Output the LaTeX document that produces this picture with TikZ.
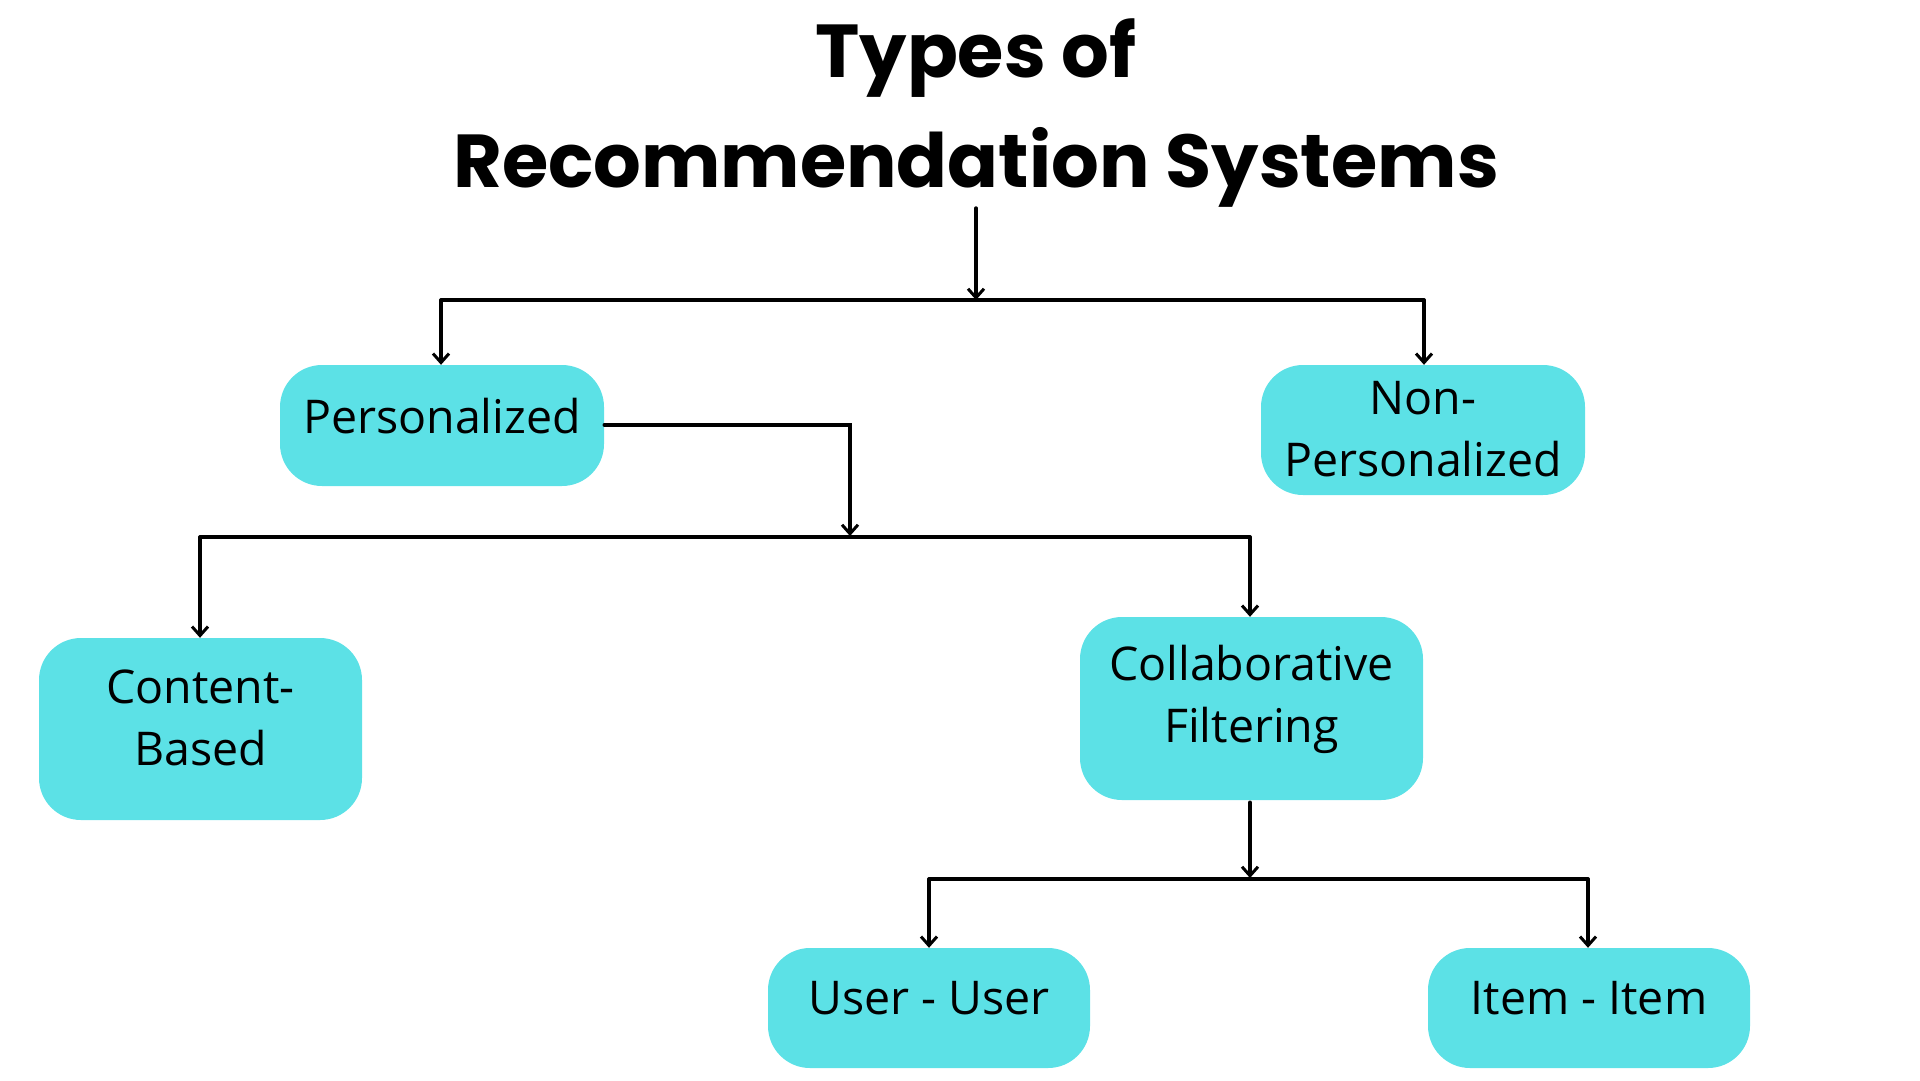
\documentclass[tikz,border=0pt]{standalone}
\usepackage{fontspec}
\setmainfont{Open Sans}
\newfontfamily\titlefont{Poppins}[BoldFont={* Bold}]
\usetikzlibrary{arrows.meta}
\definecolor{boxcyan}{HTML}{5CE1E6}
\tikzset{
  x=1pt, y=-1pt,
  box/.style={rectangle, rounded corners=42pt, fill=boxcyan, draw=none, inner sep=0pt},
  lbl/.style={font=\fontsize{46.5}{62}\selectfont, align=center, inner sep=0pt, text=black},
  wire/.style={line width=3.4pt, line cap=round},
  arr/.style={wire, -{Straight Barb[length=9pt,width=16pt,line width=3pt]}},
}
\begin{document}
\begin{tikzpicture}
\useasboundingbox (0,0) rectangle (1920,1080);
% title
\node[font=\titlefont\bfseries\fontsize{75}{110}\selectfont, align=center, inner sep=0pt] (title) at (976,113) {Types of\\Recommendation Systems};
% boxes
\node[box, minimum width=324pt, minimum height=121pt] (pers) at (442,425.5) {};
\node[box, minimum width=324pt, minimum height=130pt] (nonp) at (1423,430) {};
\node[box, minimum width=323pt, minimum height=182pt] (cont) at (200.5,729) {};
\node[box, minimum width=343pt, minimum height=183pt] (coll) at (1251.5,708.5) {};
\node[box, minimum width=322pt, minimum height=120pt] (user) at (929,1008) {};
\node[box, minimum width=322pt, minimum height=120pt] (item) at (1589,1008) {};
% labels
\node[lbl] (perst) at (442,416) {Personalized};
\node[lbl] (nonpt) at (1423,429) {Non-\\Personalized};
\node[lbl] (contt) at (200.5,718) {Content-\\Based};
\node[lbl] (collt) at (1251.5,699) {Collaborative\\Filtering};
\node[lbl] (usert) at (929,998) {User - User};
\node[lbl] (itemt) at (1589,998) {Item - Item};
% junction coordinates
\coordinate (t0) at (976,208);
\coordinate (j1) at (976,300);
\coordinate (b1l) at (441,300);
\coordinate (b1r) at (1424,300);
\coordinate (p1) at (850,425);
\coordinate (j2) at (850,536);
\coordinate (b2l) at (200,537);
\coordinate (b2r) at (1250,537);
\coordinate (j3) at (1250,878);
\coordinate (b3l) at (929,879);
\coordinate (b3r) at (1588,879);
% connectors
\draw[arr] (t0) -- (j1);
\draw[wire] (b1l) -- (b1r);
\draw[arr] (b1l) -- (b1l |- pers.north);
\draw[arr] (b1r) -- (b1r |- nonp.north);
\draw[arr] (pers.east |- p1) -- (p1) -- (j2);
\draw[wire] (b2l) -- (b2r);
\draw[arr] (b2l) -- (b2l |- cont.north);
\draw[arr] (b2r) -- (b2r |- coll.north);
\draw[arr] ([yshift=-2pt]coll.south -| j3) -- (j3);
\draw[wire] (b3l) -- (b3r);
\draw[arr] (b3l) -- (b3l |- user.north);
\draw[arr] (b3r) -- (b3r |- item.north);
\end{tikzpicture}
\end{document}
